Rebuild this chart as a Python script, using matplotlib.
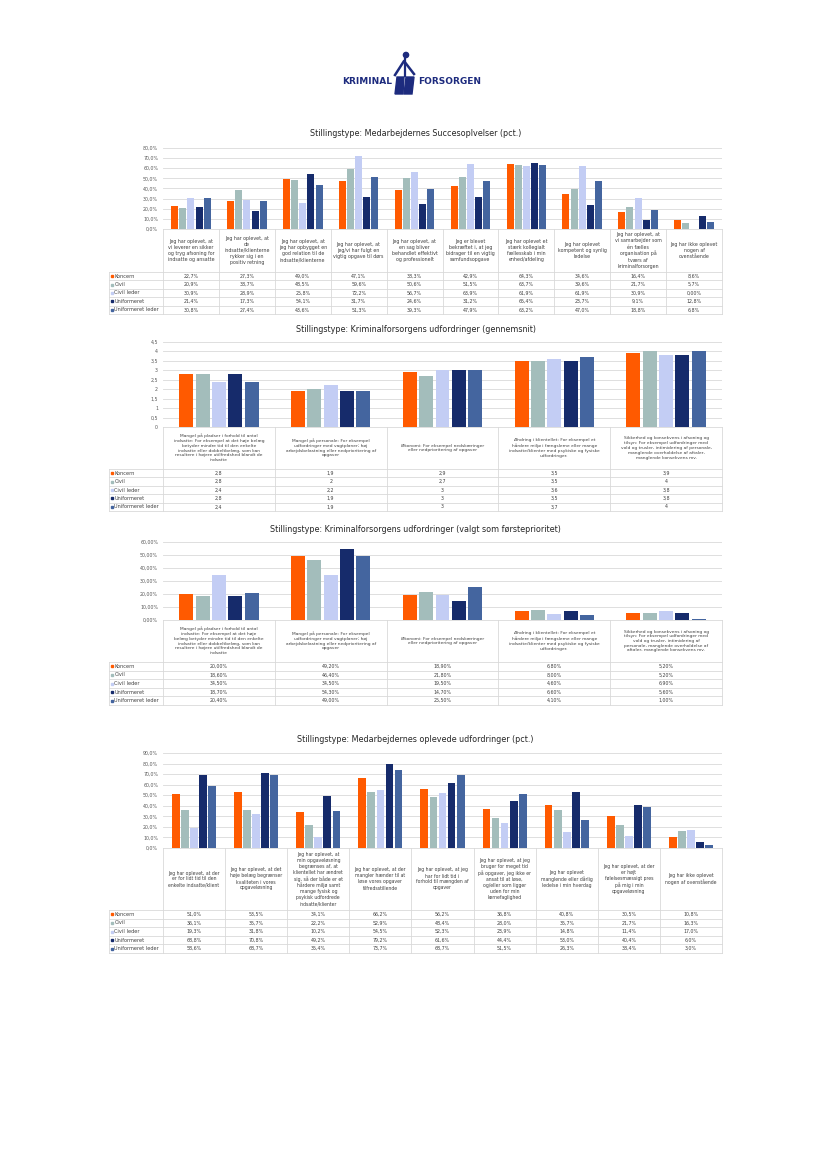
import matplotlib.pyplot as plt
import numpy as np
from matplotlib.patches import Circle, Polygon

W, H = 827, 1169

series = ['Koncern', 'Civil', 'Civil leder', 'Uniformeret', 'Uniformeret leder']
colors = ['#FF5A00', '#A3BDBB', '#C3CDF4', '#162B6B', '#44659F']

# Chart 1: Succesoplevelser (pct.)
succes_cats = [
    'Jeg har oplevet, at\nvi leverer en sikker\nog tryg afsoning for\nindsatte og ansatte',
    'Jeg har oplevet, at\nde\nindsatte/klienterne\nrykker sig i en\npositiv retning',
    'Jeg har oplevet, at\njeg har opbygget en\ngod relation til de\nindsatte/klienterne',
    'Jeg har oplevet, at\njeg/vi har fulgt en\nvigtig opgave til dørs',
    'Jeg har oplevet, at\nen sag bliver\nbehandlet effektivt\nog professionelt',
    'Jeg er blevet\nbekræftet i, at jeg\nbidrager til en vigtig\nsamfundsopgave',
    'Jeg har oplevet et\nstærk kollegialt\nfællesskab i min\nenhed/afdeling',
    'Jeg har oplevet\nkompetent og synlig\nledelse',
    'Jeg har oplevet, at\nvi samarbejder som\nén fælles\norganisation på\ntværs af\nkriminalforsorgen',
    'Jeg har ikke oplevet\nnogen af\novenstående',
]
succes_koncern = [22.7, 27.3, 49.0, 47.1, 38.3, 42.9, 64.3, 34.6, 16.4, 8.6]
succes_civil = [20.9, 38.7, 48.5, 59.6, 50.6, 51.5, 63.7, 39.6, 21.7, 5.7]
succes_civil_leder = [30.9, 28.9, 25.8, 72.2, 56.7, 63.9, 61.9, 61.9, 30.9, 0.0]
succes_uniform = [21.4, 17.3, 54.1, 31.7, 24.6, 31.2, 65.4, 23.7, 9.1, 12.8]
succes_uniform_leder = [30.8, 27.4, 43.6, 51.3, 39.3, 47.9, 63.2, 47.0, 18.8, 6.8]

# Chart 2: udfordringer (gennemsnit)
snit_cats = [
    'Mangel på pladser i forhold til antal\nindsatte: For eksempel at det høje belæg\nbetyder mindre tid til den enkelte\nindsatte eller dobbeltbelæg, som kan\nresultere i højere utilfredshed blandt de\nindsatte',
    'Mangel på personale: For eksempel\nudfordringer med vagtplaner; høj\narbejdsbelastning eller nedprioritering af\nopgaver',
    'Økonomi: For eksempel nedskæringer\neller nedprioritering af opgaver',
    'Ændring i klientellet: For eksempel et\nhårdere miljø i fængslerne eller mange\nindsatte/klienter med psykiske og fysiske\nudfordringer.',
    'Sikkerhed og konsekvens i afsoning og\ntilsyn: For eksempel udfordringer med\nvold og trusler, intimidering af personale,\nmanglende overholdelse af aftaler,\nmanglende konsekvens mv.',
]
snit_koncern = [2.8, 1.9, 2.9, 3.5, 3.9]
snit_civil = [2.8, 2.0, 2.7, 3.5, 4.0]
snit_civil_leder = [2.4, 2.2, 3.0, 3.6, 3.8]
snit_uniform = [2.8, 1.9, 3.0, 3.5, 3.8]
snit_uniform_leder = [2.4, 1.9, 3.0, 3.7, 4.0]

# Chart 3: udfordringer (valgt som førsteprioritet)
prio_cats = [
    'Mangel på pladser i forhold til antal\nindsatte: For eksempel at det høje\nbelæg betyder mindre tid til den enkelte\nindsatte eller dobbeltbelæg, som kan\nresultere i højere utilfredshed blandt de\nindsatte',
    'Mangel på personale: For eksempel\nudfordringer med vagtplaner; høj\narbejdsbelastning eller nedprioritering af\nopgaver',
    'Økonomi: For eksempel nedskæringer\neller nedprioritering af opgaver',
    'Ændring i klientellet: For eksempel et\nhårdere miljø i fængslerne eller mange\nindsatte/klienter med psykiske og fysiske\nudfordringer.',
    'Sikkerhed og konsekvens i afsoning og\ntilsyn: For eksempel udfordringer med\nvold og trusler, intimidering af\npersonale, manglende overholdelse af\naftaler, manglende konsekvens mv.',
]
prio_koncern = [20.0, 49.2, 18.9, 6.8, 5.2]
prio_civil = [18.6, 46.4, 21.8, 8.0, 5.2]
prio_civil_leder = [34.5, 34.5, 19.5, 4.6, 6.9]
prio_uniform = [18.7, 54.3, 14.7, 6.6, 5.6]
prio_uniform_leder = [20.4, 49.0, 25.5, 4.1, 1.0]

# Chart 4: oplevede udfordringer (pct.)
oplev_cats = [
    'Jeg har oplevet, at der\ner for lidt tid til den\nenkelte indsatte/klient',
    'Jeg har oplevet, at det\nhøje belæg begrænser\nkvaliteten i vores\nopgaveløsning',
    'Jeg har oplevet, at\nmin opgaveløsning\nbegrænses af, at\nklientellet har ændret\nsig, så der både er et\nhårdere miljø samt\nmange fysisk og\npsykisk udfordrede\nindsatte/klienter',
    'Jeg har oplevet, at der\nmangler hænder til at\nløse vores opgaver\ntilfredsstillende',
    'Jeg har oplevet, at jeg\nhar for lidt tid i\nforhold til mængden af\nopgaver',
    'Jeg har oplevet, at jeg\nbruger for meget tid\npå opgaver, jeg ikke er\nansat til at løse,\nog/eller som ligger\nuden for min\nkernefaglighed',
    'Jeg har oplevet\nmanglende eller dårlig\nledelse i min hverdag',
    'Jeg har oplevet, at der\ner højt\nfølelsesmæssigt pres\npå mig i min\nopgaveløsning',
    'Jeg har ikke oplevet\nnogen af ovenstående',
]
oplev_koncern = [51.0, 53.5, 34.1, 66.2, 56.2, 36.8, 40.8, 30.5, 10.8]
oplev_civil = [36.1, 35.7, 22.2, 52.9, 48.4, 28.0, 35.7, 21.7, 16.3]
oplev_civil_leder = [19.3, 31.8, 10.2, 54.5, 52.3, 23.9, 14.8, 11.4, 17.0]
oplev_uniform = [68.8, 70.8, 49.2, 79.2, 61.6, 44.4, 53.0, 40.4, 6.0]
oplev_uniform_leder = [58.6, 68.7, 35.4, 73.7, 68.7, 51.5, 26.3, 38.4, 3.0]


def fmt_pct1(v):
    if v == 0:
        return '0,00%'
    return f'{v:.1f}%'.replace('.', ',')


def fmt_avg(v):
    return f'{v:g}'.replace('.', ',')


def fmt_pct2(v):
    return f'{v:.2f}%'.replace('.', ',')


charts = [
    dict(title='Stillingstype: Medarbejdernes Succesoplvelser (pct.)',
         cats=succes_cats,
         values=[succes_koncern, succes_civil, succes_civil_leder, succes_uniform, succes_uniform_leder],
         ymax=80, ticks=np.arange(0, 81, 10), tickfmt=lambda t: f'{t:.1f}%'.replace('.', ','),
         fmt=fmt_pct1, catsize=3.4, catspace=1.28,
         title_y=133, top=148, bottom=229, cat_bottom=272, table_bottom=314),
    dict(title='Stillingstype: Kriminalforsorgens udfordringer (gennemsnit)',
         cats=snit_cats,
         values=[snit_koncern, snit_civil, snit_civil_leder, snit_uniform, snit_uniform_leder],
         ymax=4.5, ticks=np.arange(0, 4.51, 0.5), tickfmt=fmt_avg,
         fmt=fmt_avg, catsize=3.2, catspace=1.25,
         title_y=330, top=342, bottom=427, cat_bottom=469, table_bottom=511),
    dict(title='Stillingstype: Kriminalforsorgens udfordringer (valgt som førsteprioritet)',
         cats=prio_cats,
         values=[prio_koncern, prio_civil, prio_civil_leder, prio_uniform, prio_uniform_leder],
         ymax=60, ticks=np.arange(0, 61, 10), tickfmt=lambda t: f'{t:.2f}%'.replace('.', ','),
         fmt=fmt_pct2, catsize=3.2, catspace=1.25,
         title_y=530, top=542, bottom=620, cat_bottom=662, table_bottom=705),
    dict(title='Stillingstype: Medarbejdernes oplevede udfordringer (pct.)',
         cats=oplev_cats,
         values=[oplev_koncern, oplev_civil, oplev_civil_leder, oplev_uniform, oplev_uniform_leder],
         ymax=90, ticks=np.arange(0, 91, 10), tickfmt=lambda t: f'{t:.1f}%'.replace('.', ','),
         fmt=fmt_pct1, catsize=3.3, catspace=1.25,
         title_y=739, top=753, bottom=848, cat_bottom=910, table_bottom=953),
]

X0, X1, LX = 163, 722, 109
GRID = '#D9D9D9'
TXT = '#404040'

fig = plt.figure(figsize=(W / 100, H / 100), dpi=100)
over = fig.add_axes([0, 0, 1, 1])
over.set_xlim(0, W)
over.set_ylim(H, 0)
over.axis('off')

# logo
navy = '#1D2B7E'
over.text(392, 82, 'KRIMINAL', ha='right', va='center', fontsize=6.5, fontweight='bold', color=navy)
over.text(418, 82, 'FORSORGEN', ha='left', va='center', fontsize=6.5, fontweight='bold', color=navy)
over.add_patch(Circle((406, 55), 2.6, color=navy))
over.plot([395, 404, 414], [75, 61, 74], color=navy, lw=1.8, solid_joinstyle='round')
over.plot([405, 405], [58, 76], color=navy, lw=1.6)
over.add_patch(Polygon([(397, 77), (404, 77), (403, 94), (395, 94)], color=navy))
over.add_patch(Polygon([(406, 77), (414, 77), (412, 94), (404, 94)], color=navy))

for c in charts:
    n = len(c['cats'])
    top, bottom = c['top'], c['bottom']
    ax = fig.add_axes([X0 / W, 1 - bottom / H, (X1 - X0) / W, (bottom - top) / H])
    x = np.arange(n)
    for k, vals in enumerate(c['values']):
        ax.bar(x + 0.5 + (k - 2) * 0.146, vals, width=0.125, color=colors[k], zorder=3)
    ax.set_xlim(0, n)
    ax.set_ylim(0, c['ymax'])
    ax.set_yticks(c['ticks'])
    ax.set_yticklabels([c['tickfmt'](t) for t in c['ticks']])
    ax.set_xticks([])
    ax.yaxis.grid(True, color=GRID, lw=0.6, zorder=0)
    ax.tick_params(axis='y', length=0, labelsize=3.4, labelcolor='#595959', pad=3.5)
    for s in ax.spines.values():
        s.set_visible(False)
    ax.patch.set_alpha(0)

    over.text((LX + X1) / 2, c['title_y'], c['title'], ha='center', va='center',
              fontsize=5.8, color='#262626')

    cw = (X1 - X0) / n
    cb, tb = c['cat_bottom'], c['table_bottom']
    rh = (tb - cb) / len(series)
    # cell borders
    over.plot([X0, X1], [bottom, bottom], color=GRID, lw=0.6)
    for i in range(n + 1):
        over.plot([X0 + i * cw] * 2, [bottom, tb], color=GRID, lw=0.6)
    over.plot([LX, LX], [cb, tb], color=GRID, lw=0.6)
    for k in range(len(series) + 1):
        over.plot([LX, X1], [cb + k * rh] * 2, color=GRID, lw=0.6)
    # category labels
    for i, lab in enumerate(c['cats']):
        over.text(X0 + (i + 0.5) * cw, (bottom + cb) / 2, lab, ha='center', va='center',
                  fontsize=c['catsize'], color=TXT, linespacing=c['catspace'],
                  multialignment='center')
    # table rows
    for k, name in enumerate(series):
        yy = cb + (k + 0.5) * rh
        over.plot([LX + 3], [yy], marker='s', markersize=2.0, color=colors[k], lw=0)
        over.text(LX + 5.5, yy, name, ha='left', va='center', fontsize=3.6, color=TXT)
        for i, v in enumerate(c['values'][k]):
            over.text(X0 + (i + 0.5) * cw, yy, c['fmt'](v), ha='center', va='center',
                      fontsize=3.4, color=TXT)

fig.savefig('out.png', dpi=100)
